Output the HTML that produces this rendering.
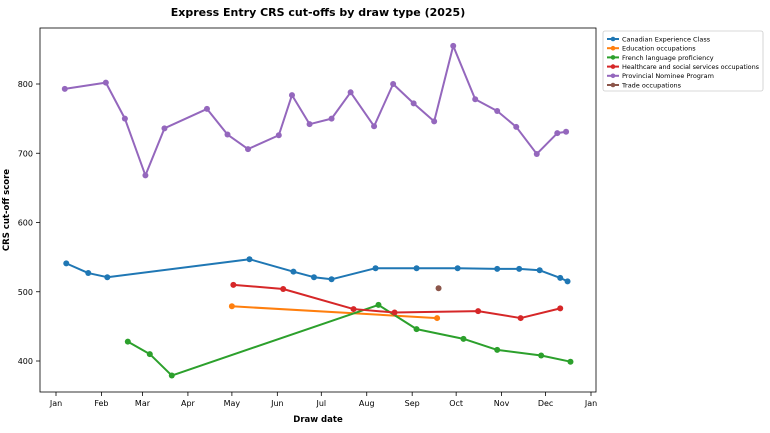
<!DOCTYPE html>
<html><head><meta charset="utf-8"><style>
body{margin:0;background:#fff;font-family:"Liberation Sans","DejaVu Sans",sans-serif}
svg text{font-family:"DejaVu Sans","Liberation Sans",sans-serif}
</style></head><body>
<svg id="c" width="770" height="428" viewBox="0 0 770 428" xmlns="http://www.w3.org/2000/svg">
<text x="318" y="16" text-anchor="middle" font-size="11" font-weight="bold">Express Entry CRS cut-offs by draw type (2025)</text>
<rect x="40" y="28" width="556" height="364" fill="none" stroke="#000" stroke-width="0.8"/>
<text x="318" y="422" text-anchor="middle" font-size="8.5" font-weight="bold">Draw date</text>
<text transform="translate(9,210) rotate(-90)" text-anchor="middle" font-size="8.5" font-weight="bold">CRS cut-off score</text>
<g id="axes"></g><g id="series"></g><g id="legend"></g>
</svg>
<script>
const seriesNames=["Canadian Experience Class","Education occupations","French language proficiency","Healthcare and social services occupations","Provincial Nominee Program","Trade occupations"];
const colors=["#1f77b4","#ff7f0e","#2ca02c","#d62728","#9467bd","#8c564b"];
const cecDates=["2025-01-08","2025-01-23","2025-02-05","2025-05-13","2025-06-12","2025-06-26","2025-07-08","2025-08-07","2025-09-04","2025-10-02","2025-10-29","2025-11-13","2025-11-27","2025-12-11","2025-12-16"];
const cecScores=[541,527,521,547,529,521,518,534,534,534,533,533,531,520,515];
const eduDates=["2025-05-01","2025-09-18"];
const eduScores=[479,462];
const frDates=["2025-02-19","2025-03-06","2025-03-21","2025-08-09","2025-09-04","2025-10-06","2025-10-29","2025-11-28","2025-12-18"];
const frScores=[428,410,379,481,446,432,416,408,399];
const hcDates=["2025-05-02","2025-06-05","2025-07-23","2025-08-20","2025-10-16","2025-11-14","2025-12-11"];
const hcScores=[510,504,475,470,472,462,476];
const pnpDates=["2025-01-07","2025-02-04","2025-02-17","2025-03-03","2025-03-16","2025-04-14","2025-04-28","2025-05-12","2025-06-02","2025-06-11","2025-06-23","2025-07-08","2025-07-21","2025-08-06","2025-08-19","2025-09-02","2025-09-16","2025-09-29","2025-10-14","2025-10-29","2025-11-11","2025-11-25","2025-12-09","2025-12-15"];
const pnpScores=[793,802,750,668,736,764,727,706,726,784,742,750,788,739,800,772,746,855,778,761,738,699,729,731];
const tradeDates=["2025-09-19"];
const tradeScores=[505];
const yTicks=[400,500,600,700,800];
const xTickLabels=["Jan","Feb","Mar","Apr","May","Jun","Jul","Aug","Sep","Oct","Nov","Dec","Jan"];

const NS="http://www.w3.org/2000/svg";
const day=s=>(Date.parse(s)-Date.UTC(2025,0,1))/86400000;
const X=d=>56+d*(535/365);
const Y=v=>84+(800-v)*0.6925;
function mk(tag,at,parent){const e=document.createElementNS(NS,tag);for(const k in at)e.setAttribute(k,at[k]);parent.appendChild(e);return e;}
const axes=document.getElementById('axes');
yTicks.forEach(v=>{
  const y=Y(v);
  const t=mk('line',{x1:36,x2:40,y1:y,y2:y,stroke:'#000','stroke-width':0.8},axes);
  
  
  const l=mk('text',{x:33,y:y+3,'text-anchor':'end','font-size':8},axes);
  l.textContent=v;
  
  
});
xTickLabels.forEach((m,i)=>{
  const d=i<12?day(`2025-${String(i+1).padStart(2,'0')}-01`):365;
  const x=X(d);
  const t=mk('line',{x1:x,x2:x,y1:392,y2:396,stroke:'#000','stroke-width':0.8},axes);
  
  
  const l=mk('text',{x:x,y:406,'text-anchor':'middle','font-size':8},axes);
  l.textContent=m;
  
  
});
const data=[[cecDates,cecScores],[eduDates,eduScores],[frDates,frScores],[hcDates,hcScores],[pnpDates,pnpScores],[tradeDates,tradeScores]];
const sg=document.getElementById('series');
data.forEach(([ds,vs],i)=>{
  const g=mk('g',{},sg);
  
  
  const pts=ds.map((d,j)=>[X(day(d)),Y(vs[j])]);
  if(pts.length>1){
    const p=mk('polyline',{points:pts.map(p=>p.join(',')).join(' '),fill:'none',stroke:colors[i],'stroke-width':2,'stroke-linejoin':'round'},g);
    
    
  }
  pts.forEach(p=>{
    const c=mk('circle',{cx:p[0],cy:p[1],r:3,fill:colors[i]},g);
    
    
  });
});
const lg=document.getElementById('legend');
const box=mk('rect',{x:603,y:31,width:160,height:60,fill:'#fff',stroke:'#ccc','stroke-width':0.8,rx:2},lg);


seriesNames.forEach((n,i)=>{
  const y=39+i*9.2;
  const g=mk('g',{},lg);
  
  
  mk('line',{x1:607,x2:619,y1:y,y2:y,stroke:colors[i],'stroke-width':2},g);
  mk('circle',{cx:613,cy:y,r:2.3,fill:colors[i]},g);
  const t=mk('text',{x:622,y:y+2.4,'font-size':6.5,textLength:n.length>30?137:null},g);
  if(n.length<=30)t.removeAttribute('textLength');
  t.textContent=n;
});
</script>
</body></html>
